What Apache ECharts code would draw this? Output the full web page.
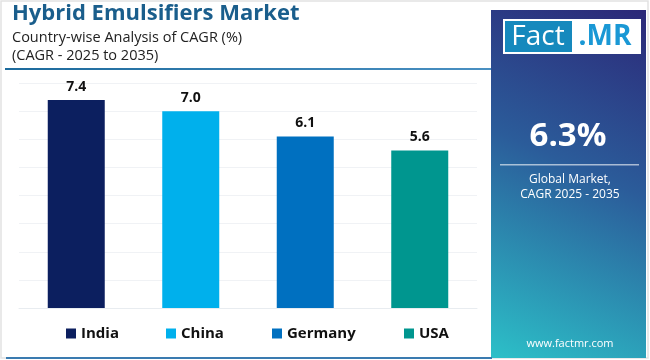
<!DOCTYPE html>
<html><head><meta charset="utf-8">
<script src="https://cdn.jsdelivr.net/npm/echarts@6/dist/echarts.min.js"></script>
<style>html,body{margin:0;padding:0;background:#fff}#c{width:650px;height:360px}</style>
</head><body><div id="c"></div>
<script>
const countries = ['India', 'China', 'Germany', 'USA'];
const cagr = [7.4, 7.0, 6.1, 5.6];
const colors = ['#0c1f5f', '#00b0ec', '#0070c0', '#00968f'];
const globalCagr = '6.3%';
const legendLeft = [66, 166, 272, 404];

const FONT = '"Open Sans", "DejaVu Sans", sans-serif';
const chart = echarts.init(document.getElementById('c'), null, {renderer: 'canvas'});
const series = countries.map((name, i) => ({
  name: name,
  type: 'bar',
  stack: 'all',
  barWidth: 57,
  itemStyle: {color: colors[i]},
  label: {show: true, position: 'top', distance: 6, fontFamily: FONT, fontWeight: 'bold', fontSize: 14, color: '#111',
          formatter: p => p.value.toFixed(1)},
  data: countries.map((c, j) => j === i ? cagr[i] : '-')
}));
chart.setOption({
  animation: false,
  grid: {left: 19, right: 173, top: 83, bottom: 52, containLabel: false},
  xAxis: {type: 'category', data: countries, axisLabel: {show: false}, axisTick: {show: false},
          splitLine: {show: false}, splitArea: {show: false},
          axisLine: {lineStyle: {color: '#e8ecf0'}}},
  yAxis: {type: 'value', min: 0, max: 8, interval: 1, axisLabel: {show: false},
          axisLine: {show: false}, axisTick: {show: false}, splitArea: {show: false},
          splitLine: {lineStyle: {color: '#f0f2f5'}}},
  legend: countries.map((name, i) => ({
    bottom: 19, left: legendLeft[i], padding: 0, itemWidth: 10, itemHeight: 10, icon: 'rect', itemGap: 4,
    textStyle: {fontFamily: FONT, fontWeight: 'bold', fontSize: 15, color: '#111'},
    data: [name]
  })),
  series: series,
  graphic: [
    {type: 'rect', shape: {x: 1, y: 1, width: 647, height: 357}, style: {fill: 'none', stroke: '#e2e2e2', lineWidth: 1.5}, z: 0},
    {type: 'rect', shape: {x: 491, y: 10, width: 155, height: 348},
     style: {fill: new echarts.graphic.LinearGradient(1, 0, 0, 1, [
       {offset: 0, color: '#2c2878'}, {offset: 0.45, color: '#2b5c9a'}, {offset: 1, color: '#2cc0c8'}])}, z: 1},
    {type: 'rect', shape: {x: 6, y: 357, width: 486, height: 2}, style: {fill: '#3a7bb0'}, z: 1},
    {type: 'rect', shape: {x: 5, y: 68, width: 486, height: 2},
     style: {fill: new echarts.graphic.LinearGradient(0, 0, 1, 0, [
       {offset: 0, color: '#1c6a9c'}, {offset: 1, color: '#4a90c2'}])}, z: 1},
    {type: 'text', left: 12, top: 3, style: {text: 'Hybrid Emulsifiers Market', fontFamily: FONT, fontWeight: 'bold', fontSize: 22, fill: '#1a5e8c'}, z: 2},
    {type: 'text', left: 12, top: 30, style: {text: 'Country-wise Analysis of CAGR (%)', fontFamily: FONT, fontSize: 14.5, fill: '#222'}, z: 2},
    {type: 'text', left: 12, top: 48, style: {text: '(CAGR - 2025 to 2035)', fontFamily: FONT, fontSize: 14.5, fill: '#222'}, z: 2},
    // logo
    {type: 'rect', shape: {x: 503, y: 19, width: 138, height: 35}, style: {fill: '#ffffff'}, z: 2},
    {type: 'rect', shape: {x: 505, y: 21, width: 67, height: 31}, style: {fill: '#1689bd'}, z: 3},
    {type: 'text', x: 538, y: 37, style: {text: 'Fact', fontFamily: FONT, fontSize: 28, fill: '#fff', align: 'center', verticalAlign: 'middle'}, z: 4},
    {type: 'text', x: 605, y: 37, style: {text: '.MR', fontFamily: FONT, fontWeight: 'bold', fontSize: 28, fill: '#1a98d5', align: 'center', verticalAlign: 'middle'}, z: 4},
    {type: 'text', x: 568, y: 137, style: {text: globalCagr, fontFamily: FONT, fontWeight: 'bold', fontSize: 33, fill: '#fff', align: 'center', verticalAlign: 'middle'}, z: 3},
    {type: 'rect', shape: {x: 500, y: 164, width: 139, height: 1.5}, style: {fill: 'rgba(255,255,255,0.6)'}, z: 3},
    {type: 'text', x: 570, y: 180, style: {text: 'Global Market,', fontFamily: FONT, fontSize: 12, fill: '#fff', align: 'center', verticalAlign: 'middle'}, z: 3},
    {type: 'text', x: 570, y: 195, style: {text: 'CAGR 2025 - 2035', fontFamily: FONT, fontSize: 12, fill: '#fff', align: 'center', verticalAlign: 'middle'}, z: 3},
    {type: 'text', x: 570, y: 344, style: {text: 'www.factmr.com', fontFamily: FONT, fontSize: 11, fill: '#fff', align: 'center', verticalAlign: 'middle'}, z: 3}
  ]
});
</script></body></html>
